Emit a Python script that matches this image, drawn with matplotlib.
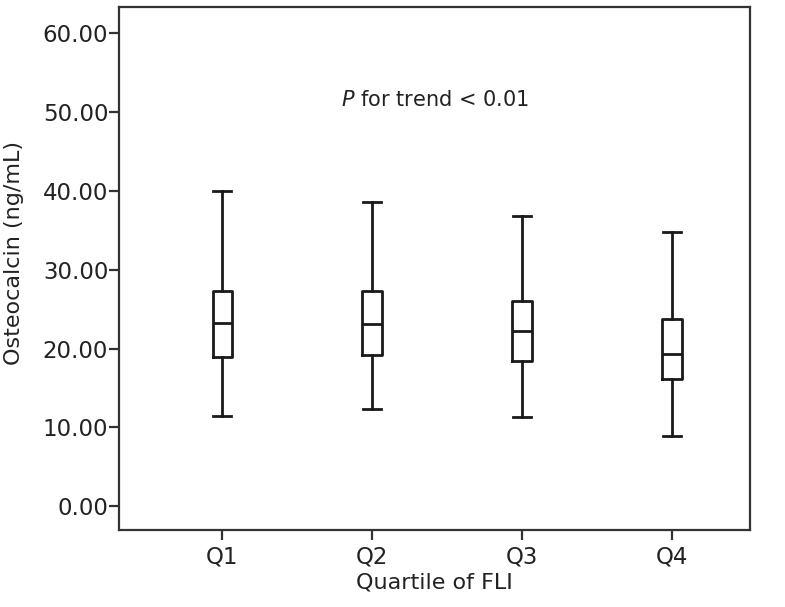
import matplotlib
matplotlib.use("Agg")
import matplotlib.pyplot as plt

categories = ["Q1", "Q2", "Q3", "Q4"]
whisker_low = [11.4, 12.4, 11.3, 8.9]
q1_values = [18.9, 19.2, 18.4, 16.2]
medians = [23.2, 23.1, 22.2, 19.3]
q3_values = [27.3, 27.3, 26.0, 23.7]
whisker_high = [40.0, 38.6, 36.8, 34.8]
y_ticks = [0, 10, 20, 30, 40, 50, 60]

fig = plt.figure(figsize=(7.85, 6.07), dpi=100)
ax = fig.add_axes([0.152, 0.127, 0.803, 0.861])

stats = []
for i, c in enumerate(categories):
    stats.append(dict(label=c, whislo=whisker_low[i], q1=q1_values[i], med=medians[i],
                      q3=q3_values[i], whishi=whisker_high[i], fliers=[]))

lw = 2.0
col = "#1a1a1a"
ax.bxp(stats, positions=range(1, len(categories) + 1), widths=0.13, showfliers=False,
       boxprops=dict(color=col, linewidth=lw),
       medianprops=dict(color=col, linewidth=lw),
       whiskerprops=dict(color=col, linewidth=lw),
       capprops=dict(color=col, linewidth=lw),
       capwidths=0.12)

ax.set_xlim(0.313, 4.52)
ax.set_ylim(-3.0, 63.3)
ax.set_yticks(y_ticks)
ax.set_yticklabels([f"{v:.2f}" for v in y_ticks])
ax.set_xticks(range(1, len(categories) + 1))
ax.set_xticklabels(categories)

for s in ax.spines.values():
    s.set_linewidth(1.6)
    s.set_color("#333333")
ax.tick_params(axis="both", direction="out", length=7, width=1.6, color="#333333",
               labelsize=16.5, labelcolor="#222222")
ax.tick_params(axis="y", pad=1)
ax.tick_params(axis="x", pad=4)

ax.set_ylabel("Osteocalcin (ng/mL)", fontsize=16, color="#222222")
ax.yaxis.set_label_coords(-0.152, 0.53)
ax.set_xlabel("Quartile of FLI", fontsize=16, color="#222222", labelpad=3)

ax.text(2.42, 51.5, r"$\mathit{P}$ for trend < 0.01", ha="center", va="center",
        fontsize=15, color="#222222")

fig.savefig("out.png", dpi=100)
